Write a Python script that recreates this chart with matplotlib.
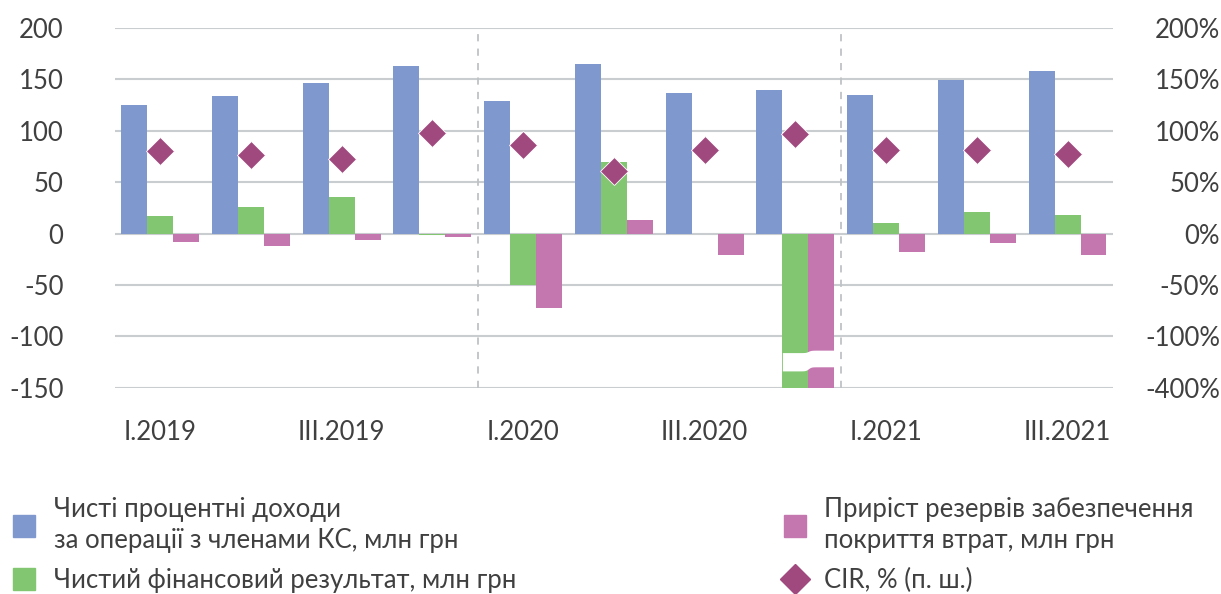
import numpy as np
import matplotlib
matplotlib.use('Agg')
import matplotlib.pyplot as plt
from matplotlib.lines import Line2D

plt.rcParams['font.family'] = ['Lato', 'Roboto', 'DejaVu Sans']

quarters = ['I.2019', 'II.2019', 'III.2019', 'IV.2019',
            'I.2020', 'II.2020', 'III.2020', 'IV.2020',
            'I.2021', 'II.2021', 'III.2021']
# net interest income, net financial result, change in provisions (UAH m)
interest_income = [125, 134, 146, 163, 129, 165, 137, 140, 135, 149, 158]
net_result = [17, 26, 36, -1.5, -50, 70, -0.5, -410, 10, 21, 18]
provisions = [-8, -12, -6.5, -3, -72.5, 13.5, -20.5, -395, -18, -9.5, -21]
# cost-to-income ratio, %
cir = [80, 76, 73, 98, 86, 61, 81.5, 97, 81, 81, 77]

left_ticks = [-150, -100, -50, 0, 50, 100, 150, 200]
left_labels = ['-150', '-100', '-50', '0', '50', '100', '150', '200']
right_labels = ['-400%', '-100%', '-50%', '0%', '50%', '100%', '150%', '200%']
shown_ticks = ['I.2019', 'III.2019', 'I.2020', 'III.2020', 'I.2021', 'III.2021']

c_blue = '#7F98CE'
c_green = '#82C671'
c_pink = '#C476AF'
c_diam = '#A0497F'
c_grid = '#C9CDD0'
c_text = '#404040'

fig = plt.figure(figsize=(12.21, 5.94), dpi=100)
ax = fig.add_axes((0.094, 0.347, 0.8175, 0.606))

x = np.arange(len(quarters))
w = 0.286
ylo, yhi = -150, 200

ax.bar(x - w, interest_income, w, color=c_blue, zorder=2)
ax.bar(x, np.clip(net_result, ylo - 2, None), w, color=c_green, zorder=2)
ax.bar(x + w, np.clip(provisions, ylo - 2, None), w, color=c_pink, zorder=2)

# axis break on the IV.2020 bars
k = quarters.index('IV.2020')
xs = np.linspace(k - w / 2, k + 1.5 * w, 200)
step = np.tanh((xs - (k + w / 2)) / 0.03)
upper = -114.5 + 1.2 * step
lower = -131.5 + 2.0 * step
ax.fill_between(xs, lower, upper, color='white', lw=0, zorder=3)

for v in left_ticks:
    ax.axhline(v, color=c_grid, lw=1.5, zorder=1)
for b in [3.5, 7.5]:
    ax.axvline(b, color='#BFC3C6', lw=1.3, ls=(0, (4, 4)), zorder=1)

ax.set_xlim(-0.5, len(quarters) - 0.5)
ax.set_ylim(ylo, yhi)
ax.set_yticks(left_ticks)
ax.set_yticklabels(left_labels)
ax.set_xticks([quarters.index(q) for q in shown_ticks])
ax.set_xticklabels(shown_ticks)
ax.tick_params(axis='y', length=0, pad=37, labelsize=18.5, labelcolor=c_text)
ax.tick_params(axis='x', length=0, pad=23, labelsize=18.5, labelcolor=c_text)
for s in ax.spines.values():
    s.set_visible(False)

ax2 = ax.twinx()
ax2.plot(x, cir, ls='none', marker='D', markersize=14, color=c_diam,
         markeredgecolor='white', markeredgewidth=0.6, zorder=4)
ax2.set_ylim(ylo, yhi)
ax2.set_yticks(left_ticks)
ax2.set_yticklabels(right_labels, ha='right')
ax2.tick_params(axis='y', length=0, pad=77, labelsize=18.5, labelcolor=c_text)
for s in ax2.spines.values():
    s.set_visible(False)

h_left = [Line2D([], [], ls='none', marker='s', markersize=16.5, color=c_blue),
          Line2D([], [], ls='none', marker='s', markersize=16.5, color=c_green)]
l_left = ['Чисті процентні доходи\nза операції з членами КС, млн грн',
          'Чистий фінансовий результат, млн грн']
h_right = [Line2D([], [], ls='none', marker='s', markersize=16.5, color=c_pink),
           Line2D([], [], ls='none', marker='D', markersize=15.5, color=c_diam)]
l_right = ['Приріст резервів забезпечення\nпокриття втрат, млн грн',
           'CIR, % (п. ш.)']

kw = dict(frameon=False, fontsize=18.5, labelcolor=c_text, handletextpad=0.6,
          labelspacing=0.6, handlelength=1.1, borderaxespad=0)
for hs, ls_, x0 in [(h_left, l_left, 0.0), (h_right, l_right, 0.631)]:
    leg = fig.legend(hs, ls_, loc='upper left', bbox_to_anchor=(x0, 0.18), **kw)
    for t in leg.get_texts():
        t.set_linespacing(1.27)

fig.savefig('out.png', dpi=100)
